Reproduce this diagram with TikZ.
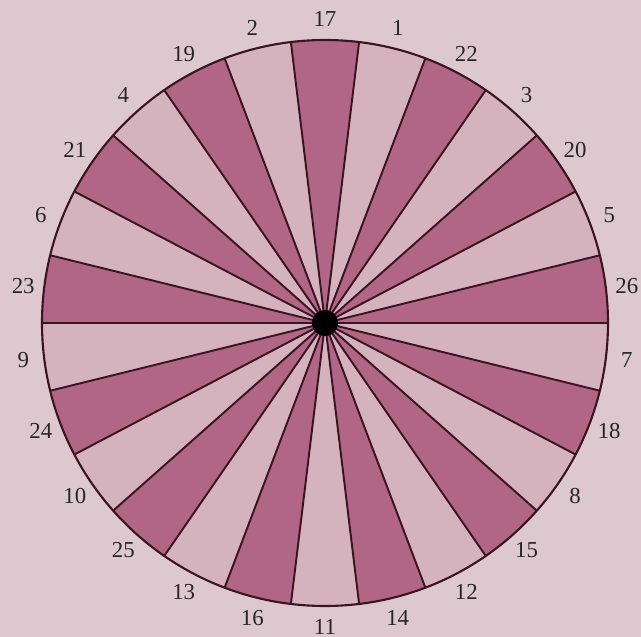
\documentclass[tikz,border=0pt]{standalone}
\usepackage{fontspec}
\setmainfont{Liberation Serif}
\definecolor{wheeldark}{RGB}{178,102,134}
\definecolor{wheellight}{RGB}{212,178,190}
\definecolor{paperpink}{RGB}{220,200,206}
\definecolor{inkline}{RGB}{58,20,32}

\begin{document}
\begin{tikzpicture}[
    x=0.2mm,y=0.2mm,
    spoke/.style={draw=inkline,line width=1.1pt},
    rim/.style={draw=inkline,line width=1.2pt},
    hubdot/.style={circle,fill=black,inner sep=0pt,minimum size=5.2mm},
    lbl/.style={font=\fontsize{13}{15}\selectfont,text=black!85,inner sep=0pt}
  ]
    % paper
    \fill[paperpink] (-325,-314) rectangle (316,323);
    \useasboundingbox (-325,-314) rectangle (316,323);

    % sectors
    \fill[wheellight] (0,0) circle[radius=283];
    \foreach \k [evaluate=\k as \a using \k*360/26,
                 evaluate=\k as \b using (\k+1)*360/26] in {0,2,...,24}
      \fill[wheeldark] (0,0) -- (\a:283) arc[start angle=\a,end angle=\b,radius=283] -- cycle;

    \node[hubdot] (hub) at (0,0) {};

    % spokes
    \foreach \k in {0,...,25} {
      \coordinate (r\k) at ({\k*360/26}:283);
      \draw[spoke] (hub.center) -- (r\k);
    }
    \draw[rim] (hub.center) circle[radius=283];
    \node[hubdot] at (hub) {};

    % labels
    \foreach \lab [count=\i from 0] in {26,5,20,3,22,1,17,2,19,4,21,6,23,9,24,10,25,13,16,11,14,12,15,8,18,7}
      \node[lbl] (n\lab) at ({(\i+0.5)*360/26}:304) {\lab};
\end{tikzpicture}
\end{document}
